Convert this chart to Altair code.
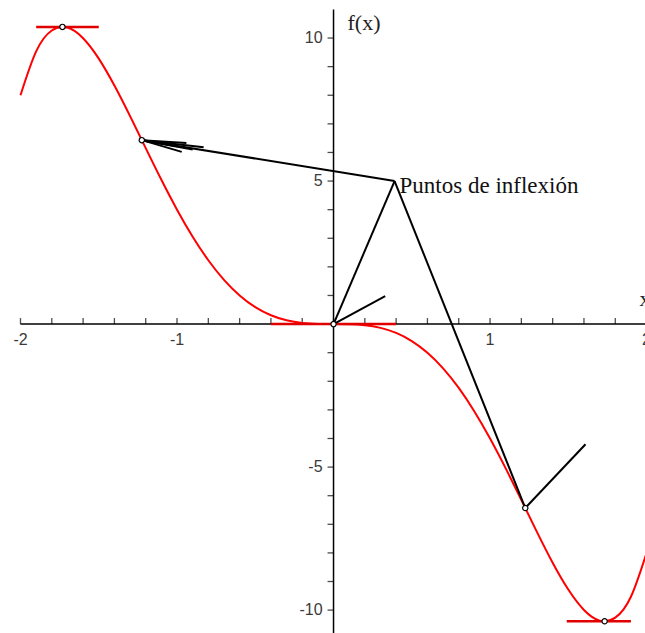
import altair as alt
import pandas as pd

# f(x) sampled every 0.1 on [-2, 2]
xs = [round(-2 + 0.1 * i, 1) for i in range(41)]
fx_right = [0.0, -0.0050, -0.0397, -0.1326, -0.3098, -0.5938, -1.0022, -1.5469,
            -2.2323, -3.0545, -4.0, -5.0445, -6.1517, -7.2721, -8.3418, -9.2813,
            -9.9942, -10.3664, -10.2643, -9.5340, -8.0]
fx = [-v for v in fx_right[:0:-1]] + fx_right

# horizontal tangents (red) at the extrema and at the origin
red_x1 = [-1.90, 1.49, -0.40]
red_x2 = [-1.50, 1.90, 0.40]
red_y = [10.39, -10.39, 0.0]

# black segments between the marked points
seg_x1 = [-1.225, 0.0, 0.39, 0.0, 1.225, -1.225, -1.225, -1.225, -1.225, -1.225]
seg_y1 = [6.43, 0.0, 5.0, 0.0, -6.43, 6.43, 6.43, 6.43, 6.43, 6.43]
seg_x2 = [0.39, 0.39, 1.225, 0.33, 1.61, -0.83, -0.97, -0.94, -0.90, -1.00]
seg_y2 = [5.0, 5.0, -6.43, 0.98, -4.2, 6.18, 6.02, 6.33, 6.10, 6.22]

# marked points: extrema and inflection points
pt_x = [-1.732, 1.732, -1.225, 1.225, 0.0]
pt_y = [10.39, -10.39, 6.43, -6.43, 0.0]

x_ticks = [round(-2 + 0.2 * i, 1) for i in range(21)]
y_ticks = [v for v in range(-10, 11) if v != 0]
x_labels = [-2, -1, 1, 2]
y_labels = [-10, -5, 5, 10]

X_DOMAIN = [-2.131, 1.990]
Y_DOMAIN = [-10.80, 11.33]

xsc = alt.Scale(domain=X_DOMAIN, nice=False, zero=False)
ysc = alt.Scale(domain=Y_DOMAIN, nice=False, zero=False)


def X(field="x"):
    return alt.X(field, type="quantitative", scale=xsc, axis=None)


def Y(field="y"):
    return alt.Y(field, type="quantitative", scale=ysc, axis=None)


curve_df = pd.DataFrame({"x": xs, "y": fx})
red_df = pd.DataFrame({"x": red_x1, "x2": red_x2, "y": red_y})
seg_df = pd.DataFrame({"x": seg_x1, "y": seg_y1, "x2": seg_x2, "y2": seg_y2})
pt_df = pd.DataFrame({"x": pt_x, "y": pt_y})
xt_df = pd.DataFrame({"x": x_ticks, "y": [0.0] * len(x_ticks)})
yt_df = pd.DataFrame({"x": [0.0] * len(y_ticks), "y": y_ticks})
xl_df = pd.DataFrame({"x": x_labels, "y": [0.0] * len(x_labels),
                      "t": [str(v) for v in x_labels]})
yl_df = pd.DataFrame({"x": [0.0] * len(y_labels), "y": y_labels,
                      "t": [str(v) for v in y_labels]})
axes_df = pd.DataFrame({"x": [-2.0, 0.0], "x2": [X_DOMAIN[1] + 0.05, 0.0],
                        "y": [0.0, -11.0], "y2": [0.0, 11.0]})

axes = alt.Chart(axes_df).mark_rule(color="black", strokeWidth=1.5).encode(
    x=X(), x2="x2", y=Y(), y2="y2")

xticks = alt.Chart(xt_df).mark_tick(
    orient="vertical", size=6, thickness=1.3, color="black", yOffset=-3
).encode(x=X(), y=Y())

yticks = alt.Chart(yt_df).mark_tick(
    orient="horizontal", size=6, thickness=1.3, color="black", xOffset=-3
).encode(x=X(), y=Y())

xlabels = alt.Chart(xl_df).mark_text(
    font="Liberation Sans", fontSize=16, color="#3a3a3a", dy=16, baseline="middle"
).encode(x=X(), y=Y(), text="t:N")

ylabels = alt.Chart(yl_df).mark_text(
    font="Liberation Sans", fontSize=16, color="#3a3a3a", dx=-11, align="right",
    baseline="middle"
).encode(x=X(), y=Y(), text="t:N")

curve = alt.Chart(curve_df).mark_line(
    color="#ff0000", strokeWidth=2, interpolate="natural"
).encode(x=X(), y=Y())

red_rules = alt.Chart(red_df).mark_rule(color="#e00000", strokeWidth=2.5).encode(
    x=X(), x2="x2", y=Y())

segments = alt.Chart(seg_df).mark_rule(color="black", strokeWidth=2).encode(
    x=X(), x2="x2", y=Y(), y2="y2")

points = alt.Chart(pt_df).mark_point(
    shape="circle", size=28, filled=False, color="black", strokeWidth=1.2,
    fill="white", fillOpacity=1
).encode(x=X(), y=Y())

fx_label = alt.Chart(pd.DataFrame({"x": [0.0], "y": [10.0], "t": ["f(x)"]})).mark_text(
    font="Liberation Serif", fontSize=22, color="#222222", align="left",
    baseline="alphabetic", dx=14, dy=-8
).encode(x=X(), y=Y(), text="t:N")

x_label = alt.Chart(pd.DataFrame({"x": [2.0], "y": [0.0], "t": ["x"]})).mark_text(
    font="Liberation Serif", fontSize=22, color="#222222", align="left",
    baseline="alphabetic", dx=-7, dy=-18
).encode(x=X(), y=Y(), text="t:N")

infl_label = alt.Chart(pd.DataFrame({"x": [0.39], "y": [5.0],
                                     "t": ["Puntos de inflexión"]})).mark_text(
    font="Liberation Serif", fontSize=23, color="#111111", align="left",
    baseline="alphabetic", dx=5, dy=12
).encode(x=X(), y=Y(), text="t:N")

chart = alt.layer(
    axes, xticks, yticks, xlabels, ylabels, curve, red_rules, segments, points,
    fx_label, x_label, infl_label
).properties(
    width=645, height=633, autosize=alt.AutoSizeParams(type="none"),
    padding=0, background="white"
).configure_view(stroke=None)

chart.save("out.html", embed_options={"renderer": "svg", "actions": False})
